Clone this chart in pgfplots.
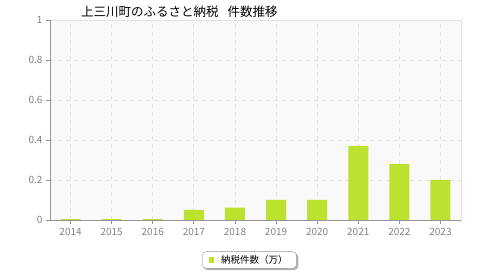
\documentclass[border=0pt]{standalone}
\usepackage{pgfplots}
\pgfplotsset{compat=1.18}
\usepackage{fontspec}
\setmainfont{Noto Sans CJK JP}
\pgfdeclarelayer{bg}
\pgfsetlayers{bg,main}
\definecolor{barc}{RGB}{189,225,47}
\definecolor{bgc}{RGB}{249,249,249}
\definecolor{gridc}{RGB}{225,225,225}
\definecolor{axc}{RGB}{150,150,150}
\definecolor{tickc}{RGB}{130,130,130}
\begin{document}
\begin{tikzpicture}
\useasboundingbox (0,0) rectangle (480bp,280bp);
\begin{axis}[
  at={(50bp,60bp)}, anchor=south west, scale only axis,
  width=411bp, height=200bp,
  xmin=-0.5, xmax=9.5, ymin=0, ymax=1,
  ybar, bar width=20bp, bar shift=0pt,
  xtick={0,...,9}, xticklabels={2014,2015,2016,2017,2018,2019,2020,2021,2022,2023},
  ytick={0,0.2,0.4,0.6,0.8,1}, yticklabels={0,0.2,0.4,0.6,0.8,1},
  /pgf/number format/assume math mode=true,
  ticklabel style={font=\fontsize{10bp}{12bp}\selectfont, text=tickc},
  xticklabel style={yshift=-1bp},
  tick align=outside, major tick length=4bp,
  tick style={axc, line width=0.8bp},
  axis x line*=bottom, axis y line*=left,
  axis line style={axc, line width=1bp, -},
  axis background/.style={fill=bgc, draw=gridc},
  grid=major, major grid style={gridc, dashed, dash pattern=on 4bp off 4bp, line width=0.8bp},
  legend style={name=leg, at={(0.485,-0.2)}, anchor=center, draw=axc, rounded corners=4bp,
    fill=white, font=\fontsize{9.5bp}{11bp}\selectfont, inner xsep=7bp, inner ysep=1.5bp},
  legend image code/.code={\fill[barc, sharp corners] (0bp,-2.5bp) rectangle (5bp,2.5bp); \path (10bp,0bp);},
]
\addplot[fill=barc, draw=none] coordinates {(0,0.005) (1,0.005) (2,0.005) (3,0.05) (4,0.062) (5,0.1) (6,0.1) (7,0.37) (8,0.28) (9,0.2)};
\addlegendentry{納税件数（万）}
\end{axis}
\begin{pgfonlayer}{bg}
\fill[gray!60, rounded corners=4bp] ([shift={(1.5bp,-1.5bp)}]leg.south west) rectangle ([shift={(1.5bp,-1.5bp)}]leg.north east);
\end{pgfonlayer}
\node[anchor=west, font=\fontsize{12.5bp}{15bp}\selectfont, inner sep=0pt] at (81bp,268bp) {上三川町のふるさと納税\hspace{9bp}件数推移};
\end{tikzpicture}
\end{document}
